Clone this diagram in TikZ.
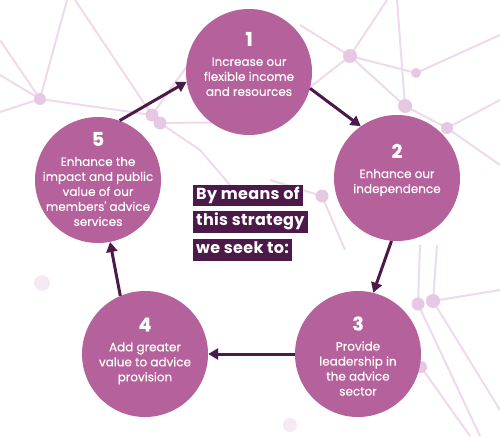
\documentclass[tikz,border=0pt]{standalone}
\usepackage{fontspec}
\setmainfont{Poppins}
\newfontfamily\stagefont{Poppins}[FakeBold=0.4]
\newfontfamily\stratfont{Poppins}[LetterSpace=2]
\usetikzlibrary{arrows.meta}
\definecolor{stagefill}{HTML}{B5619B}
\definecolor{deeppurple}{HTML}{4B1A48}
\definecolor{netline}{HTML}{EEDAEB}
\definecolor{netdot}{HTML}{E6C8E2}
\begin{document}
\begin{tikzpicture}
	[x=1pt, y=-1pt,
	stage/.style={circle, fill=stagefill, minimum size=126pt, inner sep=0pt},
	stagetext/.style={text=white, align=center, font=\stagefont\fontsize{12}{15}\selectfont},
	strat/.style={fill=deeppurple, text=white, anchor=west, inner xsep=3pt,
		text height=11pt, text depth=3.5pt, font=\stratfont\bfseries\fontsize{16}{18}\selectfont},
	link/.style={draw=deeppurple, line width=3pt, -{Triangle[length=10pt,width=11pt]}}]
	\useasboundingbox (0,0) rectangle (500,436);
	% background network
	\begin{scope}[netline, line width=2pt]
		\draw (0,40) -- (40,99) -- (67,0);
		\draw (0,75) -- (40,99) -- (0,112);
		\draw (40,99) -- (152,115) -- (75,0);
		\draw (152,115) -- (195,55);
		\draw (160,123) -- (260,122);
		\draw (160,123) -- (200,150) -- (230,185);
		\draw (300,25) -- (350,56) -- (387,0);
		\draw (350,56) -- (405,106) -- (397,0);
		\draw (350,56) -- (416,73) -- (500,35);
		\draw (350,56) -- (300,95);
		\draw (405,106) -- (447,128) -- (500,100);
		\draw (447,128) -- (500,165);
		\draw (270,180) -- (322,196) -- (345,250);
		\draw (500,290) -- (433,301) -- (437,245);
		\draw (418,304) -- (420,245);
		\draw (418,304) -- (480,436);
		\draw (433,301) -- (500,410);
		\draw (421,367) -- (470,436);
	\end{scope}
	\foreach \px/\py/\pr in {40/99/6, 152/115/6.5, 160/123/6.5, 350/56/7, 405/106/7,
		416/73/5, 447/128/6, 322/196/6.5, 418/304/6.5, 433/301/7, 421/367/6}
		\fill[netdot] (\px,\py) circle (\pr pt);
	\fill[netdot, opacity=0.4] (42,283) circle (8pt);
	\fill[netdot, opacity=0.4] (290,425) circle (7pt);
	% stages
	\node[stage] (c1) at (249,72) {};
	\node[stage] (c2) at (397,178) {};
	\node[stage] (c3) at (358,354) {};
	\node[stage] (c4) at (145,354) {};
	\node[stage] (c5) at (98,180) {};
	\node[stagetext] (t1) at (249,64) {{\bfseries\fontsize{19}{19}\selectfont 1}\\[5pt]Increase our\\flexible income\\and resources};
	\node[stagetext] (t2) at (397,170) {{\bfseries\fontsize{19}{19}\selectfont 2}\\[5pt]Enhance our\\independence};
	\node[stagetext] (t3) at (358,356) {{\bfseries\fontsize{19}{19}\selectfont 3}\\[5pt]Provide\\leadership in\\the advice\\sector};
	\node[stagetext] (t4) at (145,351) {{\bfseries\fontsize{19}{19}\selectfont 4}\\[5pt]Add greater\\value to advice\\provision};
	\node[stagetext] (t5) at (98,179) {{\bfseries\fontsize{19}{19}\selectfont 5}\\[5pt]Enhance the\\impact and public\\value of our\\members' advice\\services};
	% centre text
	\node[strat] (b1) at (193,195.5) {By means of};
	\node[strat] (b2) at (193,222) {this strategy};
	\node[strat] (b3) at (193,250) {we seek to:};
	% cycle
	\draw[link] (c5.70) -- (c1.189);
	\draw[link] (c1.-15) -- (c2.125);
	\draw[link] (c2.265) -- (c3.76);
	\draw[link] (c3.180) -- (c4.0);
	\draw[link] (c4.113) -- (c5.281);
\end{tikzpicture}
\end{document}
